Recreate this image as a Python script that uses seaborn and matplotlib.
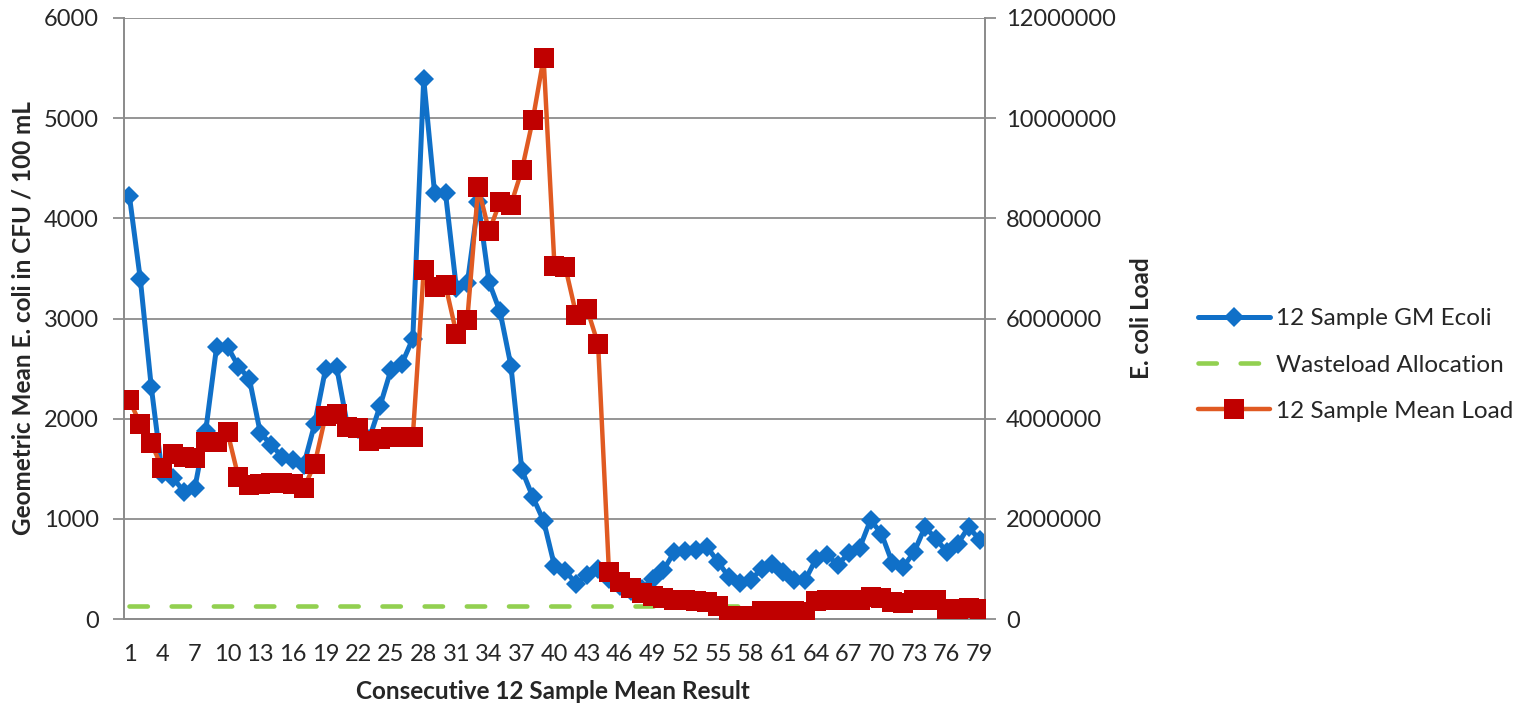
import numpy as np
import pandas as pd
import matplotlib
matplotlib.use("Agg")
import matplotlib.pyplot as plt
import seaborn as sns
from matplotlib.ticker import FixedLocator, FuncFormatter

#%% data

sample_no = list(range(1, 80))

gm_ecoli = [4220, 3390, 2320, 1450, 1410, 1270, 1310, 1880, 2720, 2720,
            2520, 2400, 1860, 1740, 1620, 1590, 1540, 1950, 2500, 2520,
            1930, 1900, 1800, 2130, 2490, 2550, 2800, 5390, 4250, 4250,
            3300, 3350, 4160, 3360, 3070, 2530, 1490, 1220, 980, 530,
            480, 350, 440, 500, 400, 330, 280, 300, 400, 490,
            670, 680, 690, 720, 570, 420, 360, 390, 500, 550,
            470, 390, 390, 600, 640, 540, 660, 710, 990, 850,
            560, 520, 670, 920, 800, 670, 750, 920, 790]

mean_load = [4370000, 3890000, 3510000, 3020000, 3300000, 3240000, 3210000, 3540000, 3540000, 3730000,
             2830000, 2680000, 2690000, 2710000, 2710000, 2700000, 2610000, 3100000, 4060000, 4090000,
             3840000, 3820000, 3560000, 3590000, 3630000, 3640000, 3640000, 6970000, 6630000, 6660000,
             5700000, 5980000, 8620000, 7740000, 8330000, 8270000, 8960000, 9960000, 11200000, 7040000,
             7020000, 6070000, 6180000, 5490000, 930000, 730000, 620000, 520000, 460000, 420000,
             380000, 380000, 360000, 340000, 260000, 60000, 50000, 50000, 150000, 150000,
             150000, 150000, 140000, 360000, 370000, 370000, 380000, 380000, 430000, 420000,
             330000, 320000, 370000, 380000, 380000, 200000, 200000, 210000, 200000]

wasteload = [126] * 79

x_ticks = list(range(1, 80, 3))

df = pd.DataFrame({'sample': sample_no, 'gm': gm_ecoli,
                   'wla': wasteload, 'load': mean_load})

#%% style

sns.set_style("white")
plt.rcParams['font.family'] = ['Lato', 'DejaVu Sans']

blue = '#1070C8'
green = '#92D050'
orange = '#E05A22'
red = '#C00000'
gray = '#8C8C8C'

fig = plt.figure(figsize=(15.32, 7.08), dpi=100)
ax = fig.add_axes([124/1532, 1-619/708, (985-124)/1532, (619-18)/708])
ax2 = ax.twinx()

#%% plot

sns.lineplot(data=df, x='sample', y='gm', ax=ax, color=blue, linewidth=3.6,
             marker='D', markersize=10.5, markeredgewidth=0, zorder=3)
sns.lineplot(data=df, x='sample', y='wla', ax=ax, color=green, linewidth=3.3, zorder=4)
wla_line = ax.lines[-1]
wla_line.set_dashes((4.0, 5.2))
wla_line.set_dash_capstyle('round')

sns.lineplot(data=df, x='sample', y='load', ax=ax2, color=orange, linewidth=3.2,
             marker='s', markersize=14, markerfacecolor=red, markeredgecolor=red,
             markeredgewidth=0, zorder=3)

for a in (ax, ax2):
    if a.get_legend() is not None:
        a.get_legend().remove()

ax.set_xlim(0.5, 79.5)
ax.set_ylim(0, 6000)
ax2.set_ylim(0, 12000000)

ax.set_yticks(range(0, 6001, 1000))
ax2.set_yticks(range(0, 12000001, 2000000))
ax2.yaxis.set_major_formatter(FuncFormatter(lambda v, p: f"{int(v)}"))

ax.xaxis.set_major_locator(FixedLocator(x_ticks))
ax.set_xticklabels([str(t) for t in x_ticks])
ax.xaxis.set_minor_locator(FixedLocator(np.arange(0.5, 80, 1)))

ax.tick_params(axis='x', which='major', length=0, pad=18, labelsize=17)
ax.tick_params(axis='x', which='minor', length=6, width=1.3, color=gray, direction='out')
ax.tick_params(axis='y', length=8, width=1.3, color=gray, pad=10, labelsize=17, left=True)
ax2.tick_params(axis='y', length=8, width=1.3, color=gray, pad=7, labelsize=17, right=True)

ax.grid(axis='y', color=gray, linewidth=1.3)
ax.grid(axis='x', visible=False)
ax2.grid(False)

for a in (ax, ax2):
    a.spines['top'].set_visible(False)
    for s in ('left', 'right', 'bottom'):
        a.spines[s].set_color(gray)
        a.spines[s].set_linewidth(1.3)

ax.set_xlabel('Consecutive 12 Sample Mean Result', fontsize=17.5, fontweight='bold')
ax.set_ylabel('Geometric Mean E. coli in CFU / 100 mL', fontsize=17.5, fontweight='bold')
ax2.set_ylabel('E. coli Load', fontsize=17.5, fontweight='bold', rotation=90)
ax.xaxis.set_label_coords(0.498, -0.101)
ax.yaxis.set_label_coords(-0.104, 0.5)
ax2.yaxis.set_label_coords(1.168, 0.5)

handles = [ax.lines[0], wla_line, ax2.lines[0]]
labels = ['12 Sample GM Ecoli', 'Wasteload Allocation', '12 Sample Mean Load']
fig.legend(handles, labels, loc='center left', bbox_to_anchor=(1198/1532, 1-365/708),
           frameon=False, fontsize=17.5, handlelength=2.96, handletextpad=0.25,
           labelspacing=1.04, borderpad=0, borderaxespad=0, numpoints=1)

fig.savefig('out.png', dpi=100)
